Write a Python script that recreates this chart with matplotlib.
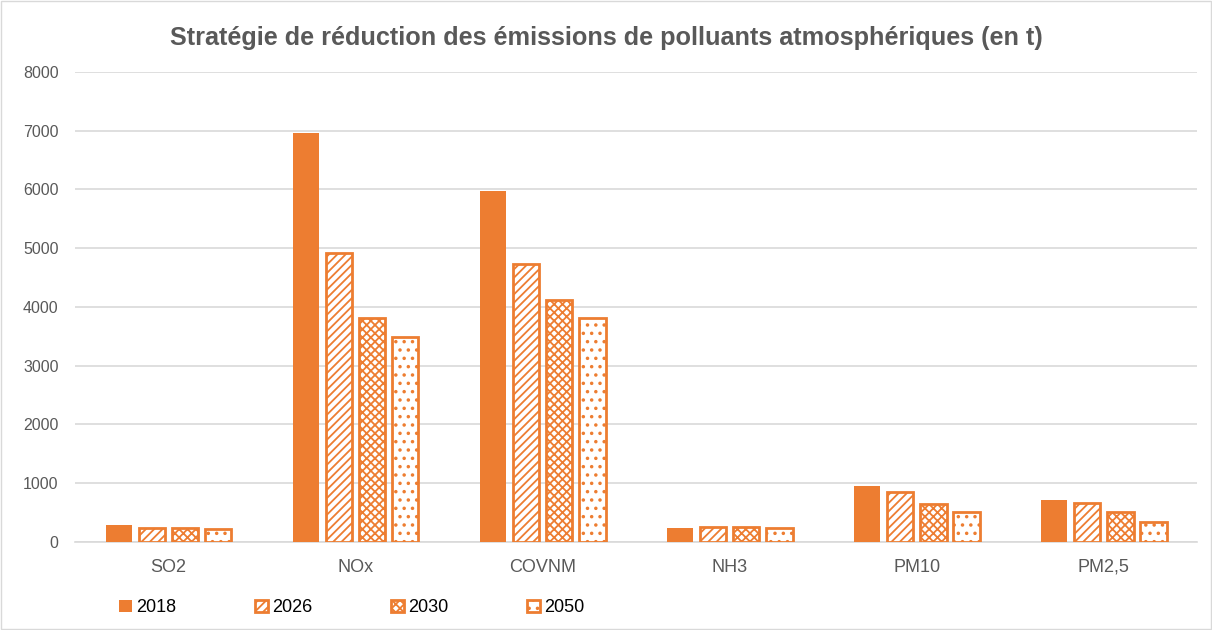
import matplotlib
matplotlib.use("Agg")
import matplotlib.pyplot as plt
import numpy as np

categories = ["SO2", "NOx", "COVNM", "NH3", "PM10", "PM2,5"]
years = ["2018", "2026", "2030", "2050"]
v2018 = [290, 6960, 5970, 240, 950, 715]
v2026 = [245, 4920, 4730, 250, 845, 660]
v2030 = [230, 3815, 4110, 250, 640, 505]
v2050 = [220, 3490, 3810, 230, 515, 340]
series = [v2018, v2026, v2030, v2050]

orange = "#ED7D31"
plt.rcParams['font.family'] = ['Liberation Sans', 'DejaVu Sans']
plt.rcParams['hatch.color'] = orange
plt.rcParams['hatch.linewidth'] = 1.3

fig = plt.figure(figsize=(12.12, 6.3), dpi=100)
ax = fig.add_axes([0.062, 0.1397, 0.926, 0.7463])

x = np.arange(len(categories))
step = 0.177
width = 0.14
hatches = [None, "////", "xxxx", ".."]
handles = []
for i, (yr, vals) in enumerate(zip(years, series)):
    off = (i - 1.5) * step
    if i == 0:
        b = ax.bar(x + off, vals, width, color=orange, edgecolor=orange, linewidth=0, label=yr, zorder=3)
    else:
        b = ax.bar(x + off, vals, width, facecolor="white", edgecolor=orange, hatch=hatches[i],
                   linewidth=2, label=yr, zorder=3)
    handles.append(b)

ax.set_xlim(-0.5, len(categories) - 0.5)
ax.set_ylim(0, 8000)
ax.set_yticks(np.arange(0, 8001, 1000))
ax.yaxis.grid(True, color="#D9D9D9", linewidth=1.2, zorder=0)
ax.set_axisbelow(True)
for s in ["top", "right", "left"]:
    ax.spines[s].set_visible(False)
ax.spines["bottom"].set_color("#D9D9D9")
ax.spines["bottom"].set_linewidth(1.2)
ax.tick_params(axis="both", length=0, colors="#595959")
ax.tick_params(axis="y", labelsize=11.5, pad=12)
ax.tick_params(axis="x", labelsize=13, pad=12)
ax.set_xticks(x)
ax.set_xticklabels(categories)

fig.text(0.5, 0.94, "Stratégie de réduction des émissions de polluants atmosphériques (en t)",
         ha="center", va="center", fontsize=18.2, fontweight="bold", color="#595959")

leg = fig.legend(handles=handles, labels=years, loc="center left", bbox_to_anchor=(0.085, 0.035),
                 ncol=4, frameon=False, fontsize=13, handlelength=0.7, handleheight=0.7,
                 handletextpad=0.25, columnspacing=4.35, labelcolor="#000000")

border = plt.Rectangle((0.001, 0.001), 0.998, 0.998, transform=fig.transFigure, fill=False,
                       edgecolor="#D9D9D9", linewidth=1)
fig.patches.append(border)

fig.savefig("out.png", dpi=100, facecolor="white")
